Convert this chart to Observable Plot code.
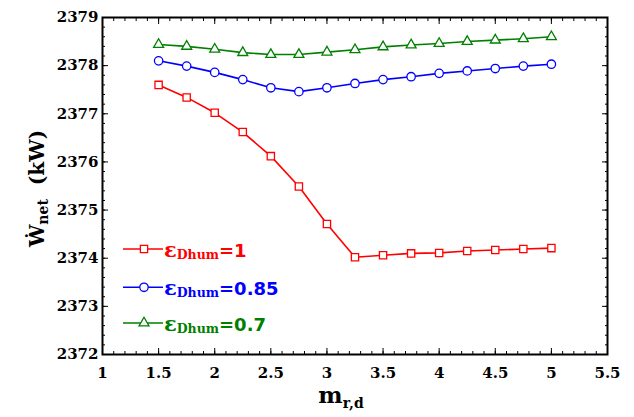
<!DOCTYPE html>
<html>
<head>
<meta charset="utf-8">
<script src="https://cdn.jsdelivr.net/npm/d3@7"></script>
<script src="https://cdn.jsdelivr.net/npm/@observablehq/plot@0.6"></script>
<style>
  html, body { margin: 0; padding: 0; background: #fff; }
  #wrap { position: relative; width: 634px; height: 417px; }
  #overlay { position: absolute; left: 0; top: 0; pointer-events: none; }
</style>
</head>
<body>
<div id="wrap"></div>
<script>
// ---- data ----
const mrd = [1.5, 1.75, 2, 2.25, 2.5, 2.75, 3, 3.25, 3.5, 3.75, 4, 4.25, 4.5, 4.75, 5];
const wnetEps1   = [2377.60, 2377.34, 2377.02, 2376.62, 2376.12, 2375.49, 2374.71, 2374.02, 2374.06, 2374.10, 2374.11, 2374.15, 2374.17, 2374.19, 2374.21];
const wnetEps085 = [2378.10, 2377.99, 2377.86, 2377.71, 2377.54, 2377.46, 2377.54, 2377.63, 2377.71, 2377.77, 2377.84, 2377.89, 2377.94, 2377.99, 2378.03];
const wnetEps07  = [2378.44, 2378.40, 2378.34, 2378.27, 2378.23, 2378.23, 2378.28, 2378.33, 2378.39, 2378.43, 2378.46, 2378.50, 2378.53, 2378.56, 2378.60];
const seriesNames = ["1", "0.85", "0.7"];
const xTicks = [1, 1.5, 2, 2.5, 3, 3.5, 4, 4.5, 5, 5.5];
const yTicks = [2372, 2373, 2374, 2375, 2376, 2377, 2378, 2379];
const xMinorTicks = d3.range(10, 56).map(v => v / 10);
const yMinorTicks = d3.range(0, 36).map(v => 2372 + v / 5);

// ---- styles ----
const seriesColors = ["#ff0000", "#0000ff", "#008000"];
const seriesSymbols = ["square", "circle", "triangle"];
const seriesR = [4.1, 4.2, 3.7];

const seriesValues = [wnetEps1, wnetEps085, wnetEps07];
const rows = seriesNames.flatMap((name, s) =>
  mrd.map((x, i) => ({x, y: seriesValues[s][i], series: name})));

const tickAxes = [];
for (const a of ["left", "right"]) {
  tickAxes.push(Plot.axisY(yMinorTicks, {anchor: a, tickSize: -3, fill: "none", label: null, stroke: "black"}));
  tickAxes.push(Plot.axisY(yTicks, {anchor: a, tickSize: -6, fill: "none", label: null, stroke: "black"}));
}
for (const a of ["top", "bottom"]) {
  tickAxes.push(Plot.axisX(xMinorTicks, {anchor: a, tickSize: -3, fill: "none", label: null, stroke: "black"}));
  tickAxes.push(Plot.axisX(xTicks, {anchor: a, tickSize: -6, fill: "none", label: null, stroke: "black"}));
}

const plot = Plot.plot({
  width: 634,
  height: 417,
  marginLeft: 102,
  marginRight: 27,
  marginTop: 17,
  marginBottom: 63,
  style: {fontFamily: "'DejaVu Serif', serif", fontWeight: "bold", fontSize: "15px", color: "black", background: "white"},
  x: {domain: [1, 5.5]},
  y: {domain: [2372, 2379]},
  color: {domain: seriesNames, range: seriesColors},
  marks: [
    Plot.axisY(yTicks, {anchor: "left", tickSize: 0, tickPadding: 4, label: null, tickFormat: d => String(d)}),
    Plot.axisX(xTicks, {anchor: "bottom", tickSize: 0, tickPadding: 13, label: null, tickFormat: d => String(d)}),
    ...tickAxes,
    ...seriesNames.flatMap((name, s) => [
      Plot.line(rows.filter(d => d.series === name), {x: "x", y: "y", stroke: "series", strokeWidth: 1.6}),
      Plot.dot(rows.filter(d => d.series === name), {x: "x", y: "y", stroke: "series", fill: "white", symbol: seriesSymbols[s], r: seriesR[s], strokeWidth: 1.3})
    ]),
    Plot.frame({stroke: "black", strokeWidth: 2})
  ]
});

const wrap = document.getElementById("wrap");
wrap.appendChild(plot);

// ---- overlay: axis labels with sub-scripts and legend ----
const ov = d3.select(wrap).append("svg")
  .attr("id", "overlay").attr("width", 634).attr("height", 417)
  .attr("font-family", "'DejaVu Serif', serif").attr("font-weight", "bold");

// y label
const yl = ov.append("text")
  .attr("transform", "translate(43.5,188.5) rotate(-90)")
  .attr("text-anchor", "middle").attr("font-size", 20).attr("fill", "black");
yl.append("tspan").text("Ẇ");
yl.append("tspan").attr("font-size", 14).attr("dy", 4).text("net");
yl.append("tspan").attr("dy", -4).text("\u00a0\u00a0(kW)");

// x label
const xl = ov.append("text")
  .attr("x", 341).attr("y", 403)
  .attr("text-anchor", "middle").attr("font-size", 23).attr("fill", "black");
xl.append("tspan").text("m");
xl.append("tspan").attr("font-size", 14).attr("dy", 5).text("r,d");

// legend
const legendBaselines = [257, 295.3, 331];
seriesNames.forEach((name, s) => {
  const base = legendBaselines[s];
  const ly = base - 8;
  const g = ov.append("g");
  g.append("line").attr("x1", 123).attr("x2", 163).attr("y1", ly).attr("y2", ly)
    .attr("stroke", seriesColors[s]).attr("stroke-width", 1.6);
  const sym = {square: d3.symbolSquare, circle: d3.symbolCircle, triangle: d3.symbolTriangle}[seriesSymbols[s]];
  g.append("path").attr("transform", `translate(144,${ly})`)
    .attr("d", d3.symbol(sym, Math.PI * seriesR[s] * seriesR[s])())
    .attr("fill", "white").attr("stroke", seriesColors[s]).attr("stroke-width", 1.3);
  const t = g.append("text").attr("x", 164).attr("y", base).attr("fill", seriesColors[s]);
  t.append("tspan").attr("font-size", 21).text("ε");
  t.append("tspan").attr("font-size", 12.5).attr("dy", 2).text("Dhum");
  t.append("tspan").attr("font-family", "'DejaVu Sans', sans-serif").attr("font-size", 18).attr("dy", -2).text("=" + name);
});
</script>
</body>
</html>
